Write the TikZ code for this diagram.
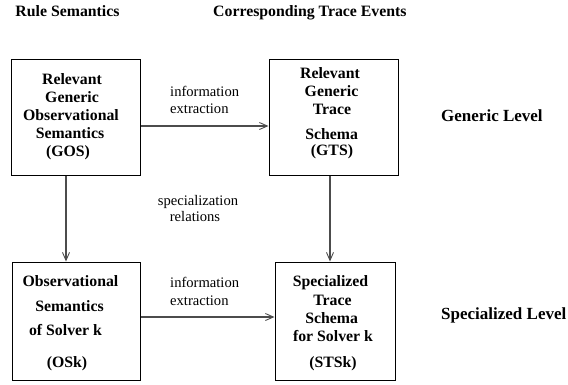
\documentclass[tikz,border=0pt]{standalone}
\usepackage{fontspec}
\setmainfont{Liberation Serif}
\usetikzlibrary{arrows.meta}
\begin{document}
\begin{tikzpicture}[x=1pt,y=-1pt,
  box/.style={draw=black,line width=1pt,minimum width=#1,inner sep=0pt},
  bt/.style={anchor=base,inner sep=0pt,font=\fontsize{15.8}{18}\selectfont\bfseries},
  lt/.style={anchor=base west,inner sep=0pt,font=\fontsize{17}{19}\selectfont\bfseries},
  rt/.style={anchor=base west,inner sep=0pt,font=\fontsize{14.6}{17}\selectfont},
  arr/.style={draw=black!70,line width=1.1pt,-{Straight Barb[length=8pt,width=7pt,line width=0.9pt]}}
]
\useasboundingbox (0,0) rectangle (568,384);
% headings
\node[bt,anchor=base] (h1) at (67.5,16) {Rule Semantics};
\node[bt,anchor=base west] (h2) at (213,16) {Corresponding Trace Events};
\node[lt] (l1) at (441,121) {Generic Level};
\node[lt] (l2) at (441,319) {Specialized Level};
% boxes
\node[box=129pt,minimum height=116pt] (gos) at (75.5,117) {};
\node[box=129pt,minimum height=116pt] (gts) at (333.5,117) {};
\node[box=128pt,minimum height=118pt] (osk) at (76,321) {};
\node[box=120pt,minimum height=118pt] (stsk) at (335,321) {};
% GOS text
\node[bt] (g1) at (72,84) {Relevant};
\node[bt] (g2) at (72,102) {Generic};
\node[bt] (g3) at (71,120) {Observational};
\node[bt] (g4) at (70,138) {Semantics};
\node[bt] (g5) at (68,156) {(GOS)};
% GTS text
\node[bt] (t1) at (330,78) {Relevant};
\node[bt] (t2) at (331.5,96.7) {Generic};
\node[bt] (t3) at (332,114.3) {Trace};
\node[bt] (t4) at (331.7,139) {Schema};
\node[bt] (t5) at (332,155.7) {(GTS)};
% OSk text
\node[bt] (o1) at (70.5,286) {Observational};
\node[bt] (o2) at (69.5,311.7) {Semantics};
\node[bt] (o3) at (65.5,335) {of Solver k};
\node[bt] (o4) at (67,367) {(OSk)};
% STSk text
\node[bt] (s1) at (330.5,286) {Specialized};
\node[bt] (s2) at (332.5,305) {Trace};
\node[bt] (s3) at (331.7,323) {Schema};
\node[bt] (s4) at (333,341.7) {for Solver k};
\node[bt] (s5) at (333,367) {(STSk)};
% labels
\node[rt] (i1) at (170,96.7) {information};
\node[rt] (i2) at (170,113) {extraction};
\node[rt] (i3) at (170,287.7) {information};
\node[rt] (i4) at (170,305) {extraction};
\node[rt,anchor=base] (sp1) at (198,205) {specialization};
\node[rt,anchor=base] (sp2) at (195,221.7) {relations};
% connectors
\draw[arr] ([yshift=-9pt]gos.east) -- ([yshift=-9pt]gos.east -| gts.west);
\draw[arr] ([yshift=4pt]osk.east) -- ([yshift=4pt]osk.east -| stsk.west);
\draw[arr] ([xshift=-9.5pt]gos.south) -- ([xshift=-9.5pt]gos.south |- osk.north);
\draw[arr] ([xshift=-3.5pt]gts.south) -- ([xshift=-3.5pt]gts.south |- stsk.north);
\end{tikzpicture}
\end{document}
